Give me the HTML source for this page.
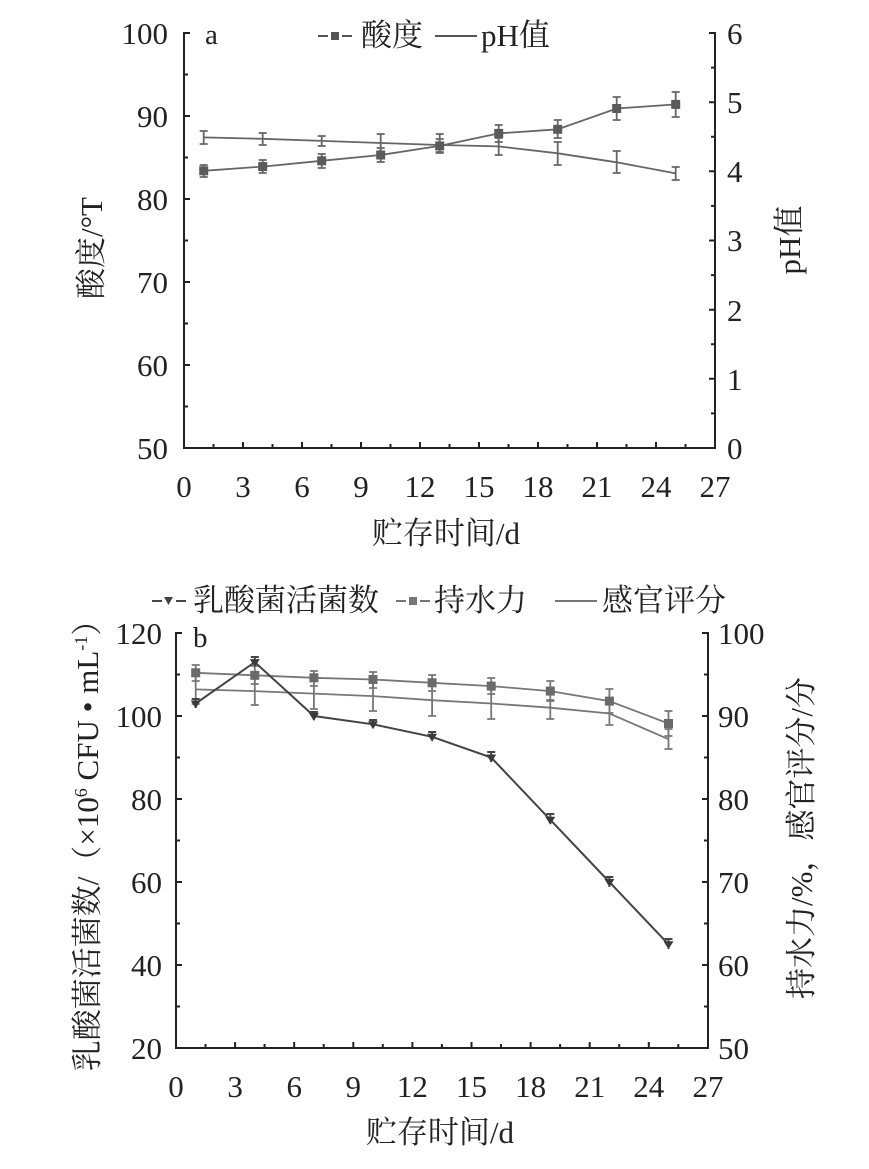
<!DOCTYPE html>
<html><head><meta charset="utf-8"><style>
html,body{margin:0;padding:0;background:#fff}
svg{display:block}
text{font-family:"Liberation Serif","Noto Serif CJK SC",serif;fill:#222}
</style></head><body>
<svg width="869" height="1169" viewBox="0 0 869 1169" xmlns="http://www.w3.org/2000/svg">
<g stroke="#222" stroke-width="2" fill="none">
<polyline points="190,33 184,33 184,448 715,448 715,33 709,33"/>
<path d="M184,116h6M184,199h6M184,282h6M184,365h6M184,74.5h4M184,157.5h4M184,240.5h4M184,323.5h4M184,406.5h4"/>
<path d="M715,102.2h-6M715,171.3h-6M715,240.5h-6M715,309.7h-6M715,378.8h-6M715,67.6h-4M715,136.8h-4M715,205.9h-4M715,275.1h-4M715,344.2h-4M715,413.4h-4"/>
<path d="M243,448v-6M302,448v-6M361,448v-6M420,448v-6M479,448v-6M538,448v-6M597,448v-6M656,448v-6M213.5,448v-4M272.5,448v-4M331.5,448v-4M390.5,448v-4M449.5,448v-4M508.5,448v-4M567.5,448v-4M626.5,448v-4M685.5,448v-4"/>
<polyline points="182,633 176,633 176,1048 708,1048 708,633 702,633"/>
<path d="M176,716h6M176,799h6M176,882h6M176,965h6M176,674.5h4M176,757.5h4M176,840.5h4M176,923.5h4M176,1006.5h4"/>
<path d="M708,716h-6M708,799h-6M708,882h-6M708,965h-6M708,674.5h-4M708,757.5h-4M708,840.5h-4M708,923.5h-4M708,1006.5h-4"/>
<path d="M235.1,1048v-6M294.2,1048v-6M353.3,1048v-6M412.4,1048v-6M471.5,1048v-6M530.6,1048v-6M589.7,1048v-6M648.8,1048v-6M205.5,1048v-4M264.6,1048v-4M323.7,1048v-4M382.8,1048v-4M441.9,1048v-4M501,1048v-4M560.1,1048v-4M619.2,1048v-4M678.3,1048v-4"/>
</g>
<g stroke="#666" stroke-width="1.8" fill="none">
<polyline points="203.7,137.4 262.7,138.8 321.7,140.9 380.7,143 439.7,145 498.7,146.4 557.7,153.3 616.7,162.3 675.7,173.4"/>
<polyline points="203.7,170.8 262.7,166.6 321.7,160.8 380.7,155 439.7,145.9 498.7,133.4 557.7,129.3 616.7,108.5 675.7,104.4"/>
<path d="M203.7,131v13M199.7,131h8M199.7,144h8 M262.7,133v12M258.7,133h8M258.7,145h8 M321.7,136v10M317.7,136h8M317.7,146h8 M380.7,134v18M376.7,134h8M376.7,152h8 M439.7,134v18M435.7,134h8M435.7,152h8 M498.7,138v17M494.7,138h8M494.7,155h8 M557.7,142v23M553.7,142h8M553.7,165h8 M616.7,151v22M612.7,151h8M612.7,173h8 M675.7,167v13M671.7,167h8M671.7,180h8"/>
<path d="M203.7,165v12M199.7,165h8M199.7,177h8 M262.7,160v13M258.7,160h8M258.7,173h8 M321.7,154v14M317.7,154h8M317.7,168h8 M380.7,148v14M376.7,148h8M376.7,162h8 M439.7,139v14M435.7,139h8M435.7,153h8 M498.7,125v17M494.7,125h8M494.7,142h8 M557.7,120v18M553.7,120h8M553.7,138h8 M616.7,97v23M612.7,97h8M612.7,120h8 M675.7,92v25M671.7,92h8M671.7,117h8"/>
</g>
<g fill="#5a5a5a">
<rect x="199.2" y="166.3" width="9" height="9"/><rect x="258.2" y="162.1" width="9" height="9"/><rect x="317.2" y="156.3" width="9" height="9"/><rect x="376.2" y="150.5" width="9" height="9"/><rect x="435.2" y="141.4" width="9" height="9"/><rect x="494.2" y="128.9" width="9" height="9"/><rect x="553.2" y="124.8" width="9" height="9"/><rect x="612.2" y="104" width="9" height="9"/><rect x="671.2" y="99.9" width="9" height="9"/>
</g>
<g stroke="#777" stroke-width="1.8" fill="none">
<polyline points="195.7,689.4 254.8,691.1 313.9,693.6 373,696.1 432.1,700.2 491.2,703.5 550.3,707.7 609.4,713.5 668.5,739.2"/>
<polyline points="195.7,672.8 254.8,675.3 313.9,677.8 373,679.5 432.1,682.8 491.2,686.1 550.3,691.1 609.4,701.1 668.5,723.5"/>
<path d="M195.7,675v29M191.7,675h8M191.7,704h8 M254.8,677v28M250.8,677h8M250.8,705h8 M313.9,679v30M309.9,679h8M309.9,709h8 M373,682v29M369,682h8M369,711h8 M432.1,684v32M428.1,684h8M428.1,716h8 M491.2,688v31M487.2,688h8M487.2,719h8 M550.3,700v19M546.3,700h8M546.3,719h8 M609.4,703v22M605.4,703h8M605.4,725h8 M668.5,729v20M664.5,729h8M664.5,749h8"/>
<path d="M195.7,665v16M191.7,665h8M191.7,681h8 M254.8,666v18M250.8,666h8M250.8,684h8 M313.9,671v15M309.9,671h8M309.9,686h8 M373,672v16M369,672h8M369,688h8 M432.1,675v16M428.1,675h8M428.1,691h8 M491.2,678v16M487.2,678h8M487.2,694h8 M550.3,681v20M546.3,681h8M546.3,701h8 M609.4,689v24M605.4,689h8M605.4,713h8 M668.5,711v25M664.5,711h8M664.5,736h8"/>
</g>
<g fill="#6a6a6a">
<rect x="191.2" y="668.3" width="9" height="9"/><rect x="250.3" y="670.8" width="9" height="9"/><rect x="309.4" y="673.3" width="9" height="9"/><rect x="368.5" y="675" width="9" height="9"/><rect x="427.6" y="678.3" width="9" height="9"/><rect x="486.7" y="681.6" width="9" height="9"/><rect x="545.8" y="686.6" width="9" height="9"/><rect x="604.9" y="696.6" width="9" height="9"/><rect x="664" y="719" width="9" height="9"/>
</g>
<g stroke="#444" stroke-width="2" fill="none">
<polyline points="195.7,703.5 254.8,662.1 313.9,716 373,724.3 432.1,736.8 491.2,757.5 550.3,819.8 609.4,882 668.5,944.3"/>
<path d="M195.7,699v9M191.7,699h8M254.8,657v9M250.8,657h8M313.9,712v8M309.9,712h8M373,720v8M369,720h8M432.1,732v8M428.1,732h8M491.2,752v10M487.2,752h8M550.3,814v10M546.3,814h8M609.4,877v10M605.4,877h8M668.5,939v10M664.5,939h8"/>
</g>
<g fill="#3a3a3a">
<path d="M190.7,700.5h10l-5,8z M249.8,659.1h10l-5,8z M308.9,713h10l-5,8z M368,721.3h10l-5,8z M427.1,733.8h10l-5,8z M486.2,754.5h10l-5,8z M545.3,816.8h10l-5,8z M604.4,879h10l-5,8z M663.5,941.3h10l-5,8z"/>
</g>
<g font-size="31" text-anchor="end">
<text x="168" y="44">100</text><text x="168" y="127">90</text><text x="168" y="210">80</text><text x="168" y="293">70</text><text x="168" y="376">60</text><text x="168" y="459">50</text>
</g>
<g font-size="31" text-anchor="start">
<text x="727" y="44">6</text><text x="727" y="113">5</text><text x="727" y="182">4</text><text x="727" y="251">3</text><text x="727" y="321">2</text><text x="727" y="390">1</text><text x="727" y="459">0</text>
</g>
<g font-size="31" text-anchor="middle">
<text x="184" y="497">0</text><text x="243" y="497">3</text><text x="302" y="497">6</text><text x="361" y="497">9</text><text x="420" y="497">12</text><text x="479" y="497">15</text><text x="538" y="497">18</text><text x="597" y="497">21</text><text x="656" y="497">24</text><text x="715" y="497">27</text>
<text x="446" y="544">贮存时间/d</text>
<text transform="translate(102,248) rotate(-90)">酸度/°T</text>
<text transform="translate(800,240) rotate(-90)">pH值</text>
</g>
<text x="205" y="44" font-size="29">a</text>
<g font-size="31">
<path d="M318,36h10M342,36h10" stroke="#555" stroke-width="2"/><rect x="331" y="32" width="8" height="8" fill="#555"/>
<text x="361" y="46">酸度</text>
<path d="M435,36h42" stroke="#555" stroke-width="2"/>
<text x="481" y="46">pH值</text>
</g>
<g font-size="31" text-anchor="end">
<text x="162" y="644">120</text><text x="162" y="727">100</text><text x="162" y="810">80</text><text x="162" y="893">60</text><text x="162" y="976">40</text><text x="162" y="1059">20</text>
</g>
<g font-size="31" text-anchor="start">
<text x="718" y="644">100</text><text x="718" y="727">90</text><text x="718" y="810">80</text><text x="718" y="893">70</text><text x="718" y="976">60</text><text x="718" y="1059">50</text>
</g>
<g font-size="31" text-anchor="middle">
<text x="176" y="1097">0</text><text x="235.1" y="1097">3</text><text x="294.2" y="1097">6</text><text x="353.3" y="1097">9</text><text x="412.4" y="1097">12</text><text x="471.5" y="1097">15</text><text x="530.6" y="1097">18</text><text x="589.7" y="1097">21</text><text x="648.8" y="1097">24</text><text x="708" y="1097">27</text>
<text x="440" y="1143">贮存时间/d</text>
<text transform="translate(98,838) rotate(-90)">乳酸菌活菌数/（×10<tspan font-size="18" dy="-11">6</tspan><tspan dy="11"> CFU • mL</tspan><tspan font-size="18" dy="-11">-1</tspan><tspan dy="11">）</tspan></text>
<text transform="translate(812,838) rotate(-90)">持水力/%，感官评分/分</text>
</g>
<text x="193" y="647" font-size="29">b</text>
<g font-size="31">
<path d="M152,601h10M176,601h10" stroke="#444" stroke-width="2"/><path d="M164,597h9l-4.5,8z" fill="#444"/>
<text x="193" y="611">乳酸菌活菌数</text>
<path d="M396,601h10M420,601h10" stroke="#777" stroke-width="2"/><rect x="409" y="597" width="8" height="8" fill="#777"/>
<text x="434" y="611">持水力</text>
<path d="M555,601h42" stroke="#777" stroke-width="2"/>
<text x="602" y="611">感官评分</text>
</g>
</svg>
</body></html>
